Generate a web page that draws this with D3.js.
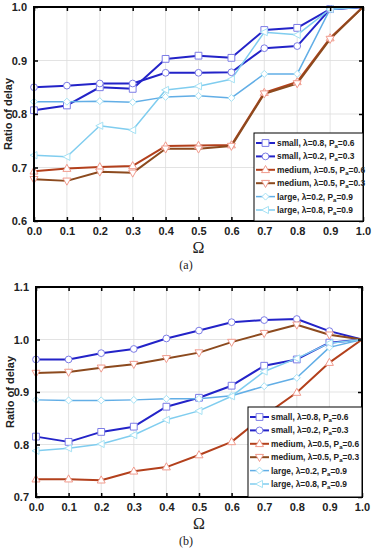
<!DOCTYPE html>
<html>
<head>
<meta charset="utf-8">
<script src="https://cdn.jsdelivr.net/npm/d3@7"></script>
<style>
  body { margin: 0; background: #fff; }
  svg { display: block; }
</style>
</head>
<body>
<svg id="chart"></svg>
<script>
// x values (Omega) and tick labels
const omega = [0.0, 0.1, 0.2, 0.3, 0.4, 0.5, 0.6, 0.7, 0.8, 0.9, 1.0];
const xTicks = [0.0, 0.1, 0.2, 0.3, 0.4, 0.5, 0.6, 0.7, 0.8, 0.9, 1.0];
const yTicksA = [0.6, 0.7, 0.8, 0.9, 1.0];
const yTicksB = [0.7, 0.8, 0.9, 1.0, 1.1];

const seriesLabels = [
    ["small, λ=0.8, P", "a", "=0.6"],
    ["small, λ=0.2, P", "a", "=0.3"],
    ["medium, λ=0.5, P", "a", "=0.6"],
    ["medium, λ=0.5, P", "a", "=0.3"],
    ["large, λ=0.2, P", "a", "=0.9"],
    ["large, λ=0.8, P", "a", "=0.9"]
];

// panel (a)
const smallL08A  = [0.807, 0.816, 0.850, 0.847, 0.903, 0.909, 0.905, 0.957, 0.961, 0.996, 1.0];
const smallL02A  = [0.850, 0.853, 0.857, 0.857, 0.877, 0.877, 0.878, 0.923, 0.927, 0.996, 1.0];
const mediumP06A = [0.693, 0.698, 0.701, 0.703, 0.740, 0.741, 0.742, 0.840, 0.860, 0.942, 1.0];
const mediumP03A = [0.678, 0.675, 0.692, 0.690, 0.735, 0.735, 0.740, 0.838, 0.857, 0.940, 1.0];
const largeL02A  = [0.823, 0.823, 0.824, 0.822, 0.832, 0.834, 0.830, 0.875, 0.875, 0.996, 1.0];
const largeL08A  = [0.723, 0.720, 0.778, 0.770, 0.845, 0.852, 0.865, 0.953, 0.948, 0.996, 1.0];

// panel (b)
const smallL08B  = [0.815, 0.805, 0.824, 0.834, 0.872, 0.889, 0.912, 0.950, 0.962, 0.994, 1.0];
const smallL02B  = [0.962, 0.962, 0.974, 0.982, 1.002, 1.017, 1.033, 1.037, 1.039, 1.016, 1.0];
const mediumP06B = [0.734, 0.734, 0.732, 0.749, 0.757, 0.780, 0.805, 0.855, 0.899, 0.956, 1.0];
const mediumP03B = [0.936, 0.938, 0.946, 0.953, 0.964, 0.975, 0.995, 1.012, 1.028, 1.009, 1.0];
const largeL02B  = [0.885, 0.884, 0.884, 0.885, 0.887, 0.887, 0.893, 0.911, 0.927, 0.985, 1.0];
const largeL08B  = [0.788, 0.793, 0.801, 0.818, 0.847, 0.864, 0.892, 0.939, 0.964, 0.993, 1.0];

const width = 373, height = 550;
const svg = d3.select("#chart").attr("width", width).attr("height", height);
const sans = "'Liberation Sans', Arial, sans-serif";
const serif = "'Liberation Serif', 'DejaVu Serif', serif";

// style per series: line colour, marker stroke, marker shape
const styles = [
    { color: "#2323c8", mark: "#7c7ce6", shape: "square", w: 2 },
    { color: "#2323c8", mark: "#7c7ce6", shape: "circle", w: 2 },
    { color: "#b3401c", mark: "#f09a8c", shape: "up", w: 2 },
    { color: "#8c4a1e", mark: "#f09a8c", shape: "down", w: 2 },
    { color: "#62aee6", mark: "#a6e2f4", shape: "diamond", w: 1.5 },
    { color: "#80cdef", mark: "#a6e2f4", shape: "left", w: 1.5 }
];

function drawMarker(g, shape, x, y, stroke) {
    const m = g.append("path")
        .attr("fill", "#fff")
        .attr("stroke", stroke)
        .attr("stroke-width", 1)
        .attr("transform", `translate(${x},${y})`);
    if (shape === "square") m.attr("d", "M-3.4,-3.4h6.8v6.8h-6.8z");
    else if (shape === "circle") m.attr("d", d3.symbol(d3.symbolCircle, 36)());
    else if (shape === "up") m.attr("d", "M0,-4.3L4,2.8L-4,2.8z");
    else if (shape === "down") m.attr("d", "M0,4.3L4,-2.8L-4,-2.8z");
    else if (shape === "diamond") m.attr("d", "M0,-3.5L3.5,0L0,3.5L-3.5,0z");
    else m.attr("d", "M-4,0L3,-3.6L3,3.6z");
}

function drawPanel(p) {
    const x = d3.scaleLinear().domain([0, 1]).range([p.left, p.right]);
    const y = d3.scaleLinear().domain(p.yDomain).range([p.bottom, p.top]);
    const g = svg.append("g");

    // grid
    g.append("g").selectAll("line").data(xTicks).join("line")
        .attr("x1", d => x(d)).attr("x2", d => x(d))
        .attr("y1", p.top).attr("y2", p.bottom)
        .attr("stroke", "#dcdcdc").attr("stroke-width", 0.8);
    g.append("g").selectAll("line").data(p.yTicks).join("line")
        .attr("x1", p.left).attr("x2", p.right)
        .attr("y1", d => y(d)).attr("y2", d => y(d))
        .attr("stroke", "#dcdcdc").attr("stroke-width", 0.8);

    // series
    const line = d3.line().x((d, i) => x(omega[i])).y(d => y(d));
    p.series.forEach((vals, k) => {
        const st = styles[k];
        g.append("path").datum(vals)
            .attr("fill", "none")
            .attr("stroke", st.color)
            .attr("stroke-width", st.w)
            .attr("stroke-linejoin", "round")
            .attr("d", line);
    });
    p.series.forEach((vals, k) => {
        const st = styles[k];
        vals.forEach((v, i) => {
            if (i === vals.length - 1) return;
            drawMarker(g, st.shape, x(omega[i]), y(v), st.mark);
        });
    });

    // axes
    const fmt = d3.format(".1f");
    g.append("g")
        .attr("transform", `translate(0,${p.bottom})`)
        .call(d3.axisBottom(x).tickValues(xTicks).tickFormat(fmt).tickSize(-4).tickPadding(6));
    g.append("g")
        .attr("transform", `translate(${p.left},0)`)
        .call(d3.axisLeft(y).tickValues(p.yTicks).tickFormat(fmt).tickSize(-4).tickPadding(7));
    g.append("g")
        .attr("transform", `translate(0,${p.top})`)
        .call(d3.axisTop(x).tickValues(xTicks).tickFormat("").tickSize(-4));
    g.append("g")
        .attr("transform", `translate(${p.right},0)`)
        .call(d3.axisRight(y).tickValues(p.yTicks).tickFormat("").tickSize(-4));
    g.selectAll(".domain").remove();
    g.selectAll(".tick line").attr("stroke", "#000").attr("stroke-width", 1.5);
    g.selectAll(".tick text")
        .style("font-family", sans)
        .attr("font-weight", "bold")
        .attr("font-size", 11)
        .attr("fill", "#222");

    g.append("rect")
        .attr("x", p.left).attr("y", p.top)
        .attr("width", p.right - p.left).attr("height", p.bottom - p.top)
        .attr("fill", "none").attr("stroke", "#000").attr("stroke-width", 2);

    // legend
    const lg = g.append("g");
    lg.append("rect")
        .attr("x", p.legend.x).attr("y", p.legend.y)
        .attr("width", p.right - p.legend.x).attr("height", p.bottom - p.legend.y)
        .attr("fill", "#fff").attr("stroke", "#000").attr("stroke-width", 1);
    seriesLabels.forEach((lab, k) => {
        const st = styles[k];
        const ly = p.legend.y + 10 + k * 13.4;
        const lx = p.legend.x + 2;
        lg.append("line")
            .attr("x1", lx).attr("x2", lx + 19)
            .attr("y1", ly).attr("y2", ly)
            .attr("stroke", st.color).attr("stroke-width", st.w);
        drawMarker(lg, st.shape, lx + 9.5, ly, st.mark);
        const t = lg.append("text")
            .attr("x", lx + 21).attr("y", ly + 3)
            .style("font-family", sans)
            .attr("font-size", 8.4).attr("font-weight", "bold").attr("fill", "#222");
        t.append("tspan").text(lab[0]);
        t.append("tspan").attr("font-size", 6).attr("dy", 2).text(lab[1]);
        t.append("tspan").attr("dy", -2).text(lab[2]);
    });

    // titles
    g.append("text")
        .attr("transform", `translate(${p.left - 22},${(p.top + p.bottom) / 2}) rotate(-90)`)
        .attr("text-anchor", "middle")
        .style("font-family", sans)
        .attr("font-size", 11).attr("font-weight", "bold").attr("fill", "#222")
        .text("Ratio of delay");
    g.append("text")
        .attr("x", (p.left + p.right) / 2).attr("y", p.bottom + 32)
        .attr("text-anchor", "middle")
        .style("font-family", serif)
        .attr("font-size", 16).attr("fill", "#222")
        .text("Ω");
    g.append("text")
        .attr("x", 186).attr("y", p.bottom + 48)
        .attr("text-anchor", "middle")
        .style("font-family", serif)
        .attr("font-size", 12).attr("fill", "#222")
        .text(p.label);
}

drawPanel({
    left: 34, right: 363, top: 7, bottom: 221,
    yDomain: [0.6, 1.0], yTicks: yTicksA,
    series: [smallL08A, smallL02A, mediumP06A, mediumP03A, largeL02A, largeL08A],
    legend: { x: 254, y: 133 },
    label: "(a)"
});

drawPanel({
    left: 36, right: 362, top: 287, bottom: 497,
    yDomain: [0.7, 1.1], yTicks: yTicksB,
    series: [smallL08B, smallL02B, mediumP06B, mediumP03B, largeL02B, largeL08B],
    legend: { x: 248, y: 407 },
    label: "(b)"
});
</script>
</body>
</html>
